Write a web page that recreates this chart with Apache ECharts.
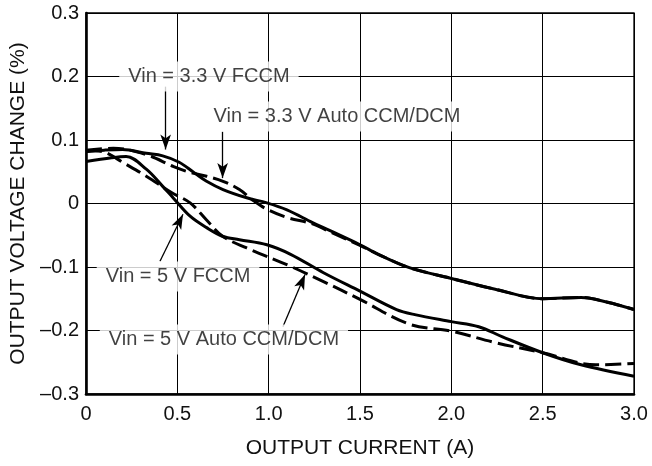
<!DOCTYPE html>
<html>
<head>
<meta charset="utf-8">
<script src="https://cdn.jsdelivr.net/npm/echarts@6/dist/echarts.min.js"></script>
<style>
html,body{margin:0;padding:0;background:#fff;}
#c{width:652px;height:466px;}
</style>
</head>
<body>
<div id="c"></div>
<script>
// ---- data ----
const xTicks = [0, 0.5, 1.0, 1.5, 2.0, 2.5, 3.0];
const yTicks = [-0.3, -0.2, -0.1, 0, 0.1, 0.2, 0.3];

const fccm33X = [0, 0.1, 0.2, 0.33, 0.42, 0.51, 0.59, 0.66, 0.75, 0.88, 0.99, 1.1, 1.24, 1.33, 1.5, 1.6, 1.77, 2.0, 2.24, 2.5, 2.71, 2.85, 3.0];
const fccm33Y = [0.082, 0.084, 0.085, 0.079, 0.075, 0.065, 0.049, 0.035, 0.022, 0.009, 0.001, -0.01, -0.03, -0.042, -0.065, -0.08, -0.101, -0.118, -0.135, -0.15, -0.148, -0.155, -0.167];

const auto33X = [0, 0.15, 0.33, 0.48, 0.57, 0.66, 0.75, 0.84, 0.91, 0.99, 1.1, 1.24, 1.33, 1.5, 1.6, 1.77, 2.0, 2.24, 2.5, 2.71, 2.85, 3.0];
const auto33Y = [0.084, 0.087, 0.077, 0.058, 0.049, 0.043, 0.035, 0.022, 0.006, -0.009, -0.022, -0.032, -0.044, -0.066, -0.08, -0.101, -0.118, -0.135, -0.15, -0.148, -0.155, -0.167];

const fccm5X = [0, 0.14, 0.22, 0.33, 0.42, 0.48, 0.57, 0.66, 0.75, 0.84, 0.99, 1.12, 1.3, 1.5, 1.7, 1.8, 2.0, 2.15, 2.28, 2.5, 2.71, 3.0];
const fccm5Y = [0.066, 0.072, 0.074, 0.054, 0.027, 0.008, -0.02, -0.038, -0.052, -0.057, -0.065, -0.08, -0.109, -0.138, -0.167, -0.175, -0.186, -0.194, -0.21, -0.235, -0.254, -0.272];

const auto5X = [0, 0.05, 0.11, 0.2, 0.33, 0.47, 0.57, 0.66, 0.75, 0.88, 1.12, 1.3, 1.5, 1.77, 2.0, 2.24, 2.5, 2.79, 3.0];
const auto5Y = [0.082, 0.083, 0.08, 0.065, 0.043, 0.017, 0.001, -0.026, -0.052, -0.07, -0.099, -0.123, -0.151, -0.19, -0.201, -0.219, -0.235, -0.254, -0.252];

const noteTexts = ['Vin = 3.3 V FCCM', 'Vin = 3.3 V Auto CCM/DCM', 'Vin = 5 V FCCM', 'Vin = 5 V Auto CCM/DCM'];
const noteAnchors = [[0.673, 0.2], [1.374, 0.137], [0.504, -0.115], [0.755, -0.214]];
const arrowFrom = [[0.436, 0.184], [0.748, 0.113], [0.405, -0.091], [1.078, -0.194]];
const arrowTo = [[0.436, 0.085], [0.748, 0.040], [0.531, -0.017], [1.199, -0.112]];

// ---- chart ----
const FONT = '"Liberation Sans", Arial, Helvetica, sans-serif';
const zip = (xs, ys) => xs.map((x, i) => [x, ys[i]]);
const fmtY = v => { const r = Math.round(v * 10) / 10; if (r === 0) return '0'; return (r < 0 ? '\u2013' : '') + Math.abs(r).toFixed(1); };
const fmtX = v => { const r = Math.round(v * 10) / 10; return r === 0 ? '0' : r.toFixed(1); };

function curve(name, data, dashed) {
  return {
    name, type: 'line', data, smooth: 0.35, showSymbol: false, symbol: 'none',
    lineStyle: { color: '#000', width: 3, type: dashed ? [16, 6] : 'solid', cap: 'butt' },
    z: 3, silent: true
  };
}

const chart = echarts.init(document.getElementById('c'), null, { renderer: 'canvas' });
chart.setOption({
  animation: false,
  backgroundColor: '#fff',
  grid: { left: 86, right: 18, top: 13, bottom: 72, show: true, borderColor: '#000', borderWidth: 1.3, backgroundColor: 'transparent' },
  xAxis: {
    type: 'value', min: xTicks[0], max: xTicks[xTicks.length - 1], interval: 0.5,
    name: 'OUTPUT CURRENT (A)', nameLocation: 'middle', nameGap: 44,
    nameTextStyle: { fontFamily: FONT, fontSize: 21, color: '#111' },
    axisLine: { show: true, onZero: false, lineStyle: { color: '#000', width: 2.6 } },
    axisTick: { show: false },
    axisLabel: { formatter: fmtX, margin: 10, fontFamily: FONT, fontSize: 20, color: '#111' },
    splitLine: { show: true, lineStyle: { color: '#000', width: 1 } }
  },
  yAxis: {
    type: 'value', min: yTicks[0], max: yTicks[yTicks.length - 1], interval: 0.1,
    name: 'OUTPUT VOLTAGE CHANGE (%)', nameLocation: 'middle', nameGap: 56,
    nameTextStyle: { fontFamily: FONT, fontSize: 21, color: '#111' },
    axisLine: { show: true, onZero: false, lineStyle: { color: '#000', width: 2.6 } },
    axisTick: { show: false },
    axisLabel: { formatter: fmtY, margin: 7, fontFamily: FONT, fontSize: 20, color: '#111' },
    splitLine: { show: true, lineStyle: { color: '#000', width: 1 } }
  },
  series: [
    curve('Vin = 3.3 V FCCM', zip(fccm33X, fccm33Y), false),
    curve('Vin = 3.3 V Auto CCM/DCM', zip(auto33X, auto33Y), true),
    curve('Vin = 5 V FCCM', zip(fccm5X, fccm5Y), false),
    curve('Vin = 5 V Auto CCM/DCM', zip(auto5X, auto5Y), true),
    {
      type: 'scatter', name: 'notes', symbolSize: 0, z: 5, silent: true,
      data: noteAnchors.map((p, i) => ({ value: p, label: { formatter: noteTexts[i] } })),
      label: {
        show: true, position: 'inside', fontFamily: FONT, fontSize: 20, color: '#111',
        backgroundColor: '#fff', padding: [5, 9]
      },
      markLine: {
        silent: true, symbol: ['none', 'arrow'], symbolSize: [8, 15], precision: 4,
        label: { show: false },
        lineStyle: { color: '#000', width: 1.3, type: 'solid' },
        data: arrowFrom.map((f, i) => [{ coord: f }, { coord: arrowTo[i] }])
      }
    }
  ]
});
</script>
</body>
</html>
